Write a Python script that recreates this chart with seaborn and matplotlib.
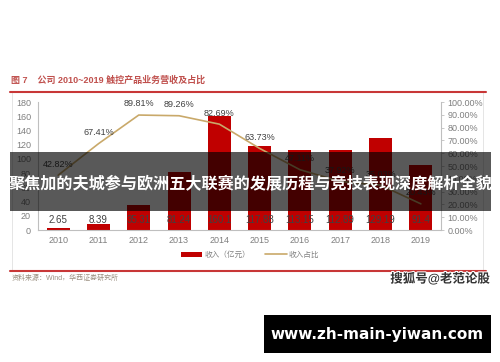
import numpy as np
import pandas as pd
import matplotlib
matplotlib.use('Agg')
import matplotlib.pyplot as plt
import matplotlib.patheffects as pe
import seaborn as sns
from matplotlib.patches import Rectangle, Patch
from matplotlib.lines import Line2D
from matplotlib.ticker import FuncFormatter, MultipleLocator

# ---- data ----
years = ['2010', '2011', '2012', '2013', '2014', '2015', '2016', '2017', '2018', '2019']
revenue = [2.65, 8.39, 35.31, 81.24, 160.1, 117.88, 113.15, 112.89, 129.19, 91.4]
share = [42.82, 67.41, 89.81, 89.26, 82.69, 63.73, 47.11, 37.92, 35.03, 20.43]
legend_labels = ['收入（亿元）', '收入占比']
title_text = '图 7    公司 2010~2019 触控产品业务营收及占比'
source_text = '资料来源：Wind，华西证券研究所'
watermark_text = '搜狐号@老范论股'
banner_text = '聚焦加的夫城参与欧洲五大联赛的发展历程与竞技表现深度解析全貌'
site_text = 'www.zh-main-yiwan.com'

BAR_C = '#C00000'
LINE_C = '#C9A96A'
RED_LINE = '#C83737'
TXT = '#404040'
TICK = '#7F7F7F'

sns.set_theme(style='white')
plt.rcParams['font.family'] = ['Liberation Sans', 'Noto Sans CJK SC', 'DejaVu Sans']

W, H = 500, 362
fig = plt.figure(figsize=(W / 100, H / 100), dpi=100)
fig.patch.set_facecolor('white')

def fr(x0, y0, x1, y1):
    return [x0 / W, 1 - y1 / H, (x1 - x0) / W, (y1 - y0) / H]

df = pd.DataFrame({'year': years, 'revenue': revenue, 'share': share})

ax = fig.add_axes(fr(38, 102, 441, 230))
sns.barplot(data=df, x='year', y='revenue', color=BAR_C, saturation=1,
            width=0.57, linewidth=0, ax=ax)
ax.set_ylim(0, 180)
ax.yaxis.set_major_locator(MultipleLocator(20))
ax.set_xlabel('')
ax.set_ylabel('')
for s in ['top', 'right']:
    ax.spines[s].set_visible(False)
for s in ['left', 'bottom']:
    ax.spines[s].set_color('#BFBFBF')
    ax.spines[s].set_linewidth(0.8)
ax.tick_params(axis='y', length=0, pad=5, labelsize=6.5, labelcolor=TICK)
ax.tick_params(axis='x', length=0, pad=4.5, labelsize=6.5, labelcolor=TICK)

for i, v in enumerate(revenue):
    ax.annotate(str(v), xy=(i, 0), xytext=(0, 7.5), textcoords='offset points',
                ha='center', va='center', fontsize=7, color=TXT)

ax2 = ax.twinx()
sns.lineplot(x=np.arange(len(years)), y=share, ax=ax2, color=LINE_C, linewidth=1.2)
ax2.set_ylim(0, 100)
ax2.set_xlim(-0.5, len(years) - 0.5)
ax2.yaxis.set_major_locator(MultipleLocator(10))
ax2.yaxis.set_major_formatter(FuncFormatter(lambda v, p: f'{v:.2f}%'))
for s in ['top', 'left', 'bottom']:
    ax2.spines[s].set_visible(False)
ax2.spines['right'].set_color('#BFBFBF')
ax2.spines['right'].set_linewidth(0.8)
ax2.tick_params(axis='y', length=2.5, width=0.6, color='#BFBFBF', pad=2,
                labelsize=6.5, labelcolor=TICK)
ax2.set_ylabel('')

for i, v in enumerate(share):
    ax2.annotate(f'{v:.2f}%', xy=(i, v), xytext=(0, 8), textcoords='offset points',
                 ha='center', va='center', fontsize=6.5, color=TXT)

handles = [Patch(facecolor=BAR_C, edgecolor='none'),
           Line2D([0], [0], color=LINE_C, lw=1.2)]
leg = ax.legend(handles, legend_labels, loc='center', ncol=2, frameon=False,
                bbox_to_anchor=(250 / W, 1 - 255 / H), bbox_transform=fig.transFigure,
                fontsize=5.5, handlelength=2.8, handleheight=0.6, columnspacing=2.0,
                handletextpad=0.3)
for t in leg.get_texts():
    t.set_color('#808080')

# frame and red rules
fig.add_artist(Rectangle((12 / W, 1 - 271 / H), 471 / W, 179 / H, transform=fig.transFigure,
                         facecolor='none', edgecolor='#E0E0E0', linewidth=0.6, zorder=1))
fig.add_artist(Line2D([10 / W, 486 / W], [1 - 92 / H, 1 - 92 / H], transform=fig.transFigure,
                      color=RED_LINE, linewidth=1.5, zorder=2))
fig.add_artist(Line2D([10 / W, 486 / W], [1 - 271 / H, 1 - 271 / H], transform=fig.transFigure,
                      color=RED_LINE, linewidth=1.5, zorder=2))

fig.text(11 / W, 1 - 80 / H, title_text, ha='left', va='center', fontsize=6.5,
         color='#C0504D', fontweight='bold')
fig.text(12 / W, 1 - 278 / H, source_text, ha='left', va='center', fontsize=5,
         color='#9A8F80')
fig.text(490 / W, 1 - 279 / H, watermark_text, ha='right', va='center', fontsize=9,
         color='#333333', fontweight='bold',
         path_effects=[pe.withStroke(linewidth=1.5, foreground='white')])

# banner overlay
fig.add_artist(Rectangle((10 / W, 1 - 211 / H), 481 / W, 59 / H, transform=fig.transFigure,
                         facecolor='black', edgecolor='none', alpha=0.65, zorder=10))
fig.text(250 / W, 1 - 183 / H, banner_text, ha='center', va='center', fontsize=11.6,
         color='white', fontweight='bold', zorder=11)

# site box
fig.add_artist(Rectangle((264 / W, 1 - 353 / H), 227 / W, 38 / H, transform=fig.transFigure,
                         facecolor='black', edgecolor='none', zorder=10))
fig.text(377.5 / W, 1 - 334 / H, site_text, ha='center', va='center', fontsize=11,
         color='white', fontweight='bold', family='DejaVu Sans', zorder=11)

fig.savefig('out.png', dpi=100)
